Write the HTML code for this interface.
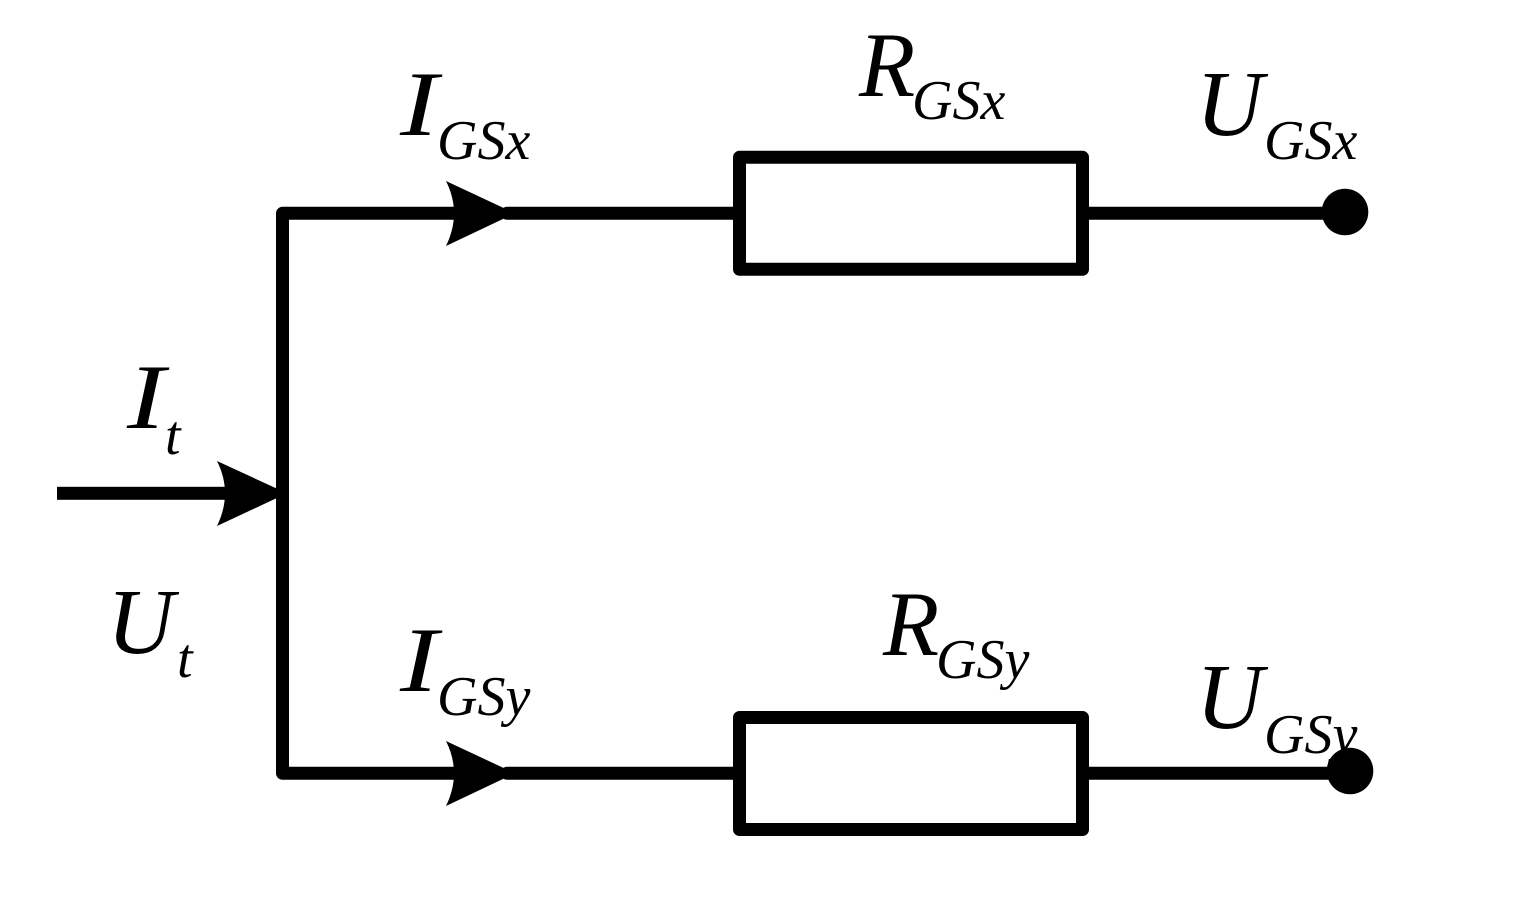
<!DOCTYPE html>
<html><head><meta charset="utf-8">
<style>html,body{margin:0;padding:0;background:#fff}svg{display:block}
text{font-family:"Liberation Serif",serif;font-style:italic;fill:#000}</style></head>
<body>
<svg width="1519" height="905" viewBox="0 0 1519 905" xmlns="http://www.w3.org/2000/svg">
<rect width="1519" height="905" fill="#fff"/>
<g fill="none" stroke="#000" stroke-width="13" stroke-linejoin="round" stroke-linecap="round">
<path d="M455 213.3H282.5V773.3H455"/>
<rect x="739.5" y="157.3" width="343" height="112"/>
<rect x="739.5" y="717.5" width="343" height="112"/>
<path d="M507 213.3H739.5M1082.5 213.3H1345M507 773.3H739.5M1082.5 773.3H1349"/>
</g>
<rect x="57" y="486.8" width="170" height="13" fill="#000"/>
<g fill="#000">
<path d="M287 493.3L217 461Q233 493 217 526Z"/>
<path d="M515 213.3L446 181Q462 213 446 246Z"/>
<path d="M515 773.3L446 741Q462 773 446 806Z"/>
<circle cx="1345" cy="212" r="23.3"/>
<circle cx="1350" cy="771" r="23.3"/>
</g>
<text x="400" y="135" font-size="92" textLength="38" lengthAdjust="spacingAndGlyphs">I</text>
<text x="437" y="159" font-size="56">GSx</text>
<text x="859" y="96" font-size="92">R</text>
<text x="912" y="119" font-size="56">GSx</text>
<text x="1196" y="135" font-size="93">U</text>
<text x="1264" y="159" font-size="56">GSx</text>
<text x="127" y="428" font-size="92" textLength="38" lengthAdjust="spacingAndGlyphs">I</text>
<text x="165" y="454" font-size="56">t</text>
<text x="107" y="653" font-size="93">U</text>
<text x="177" y="677" font-size="56">t</text>
<text x="400" y="691" font-size="92" textLength="38" lengthAdjust="spacingAndGlyphs">I</text>
<text x="437" y="715" font-size="56">GSy</text>
<text x="883" y="655" font-size="92">R</text>
<text x="936" y="678" font-size="56">GSy</text>
<text x="1196" y="728" font-size="93">U</text>
<text x="1264" y="753" font-size="56">GSy</text>
</svg>
</body></html>
